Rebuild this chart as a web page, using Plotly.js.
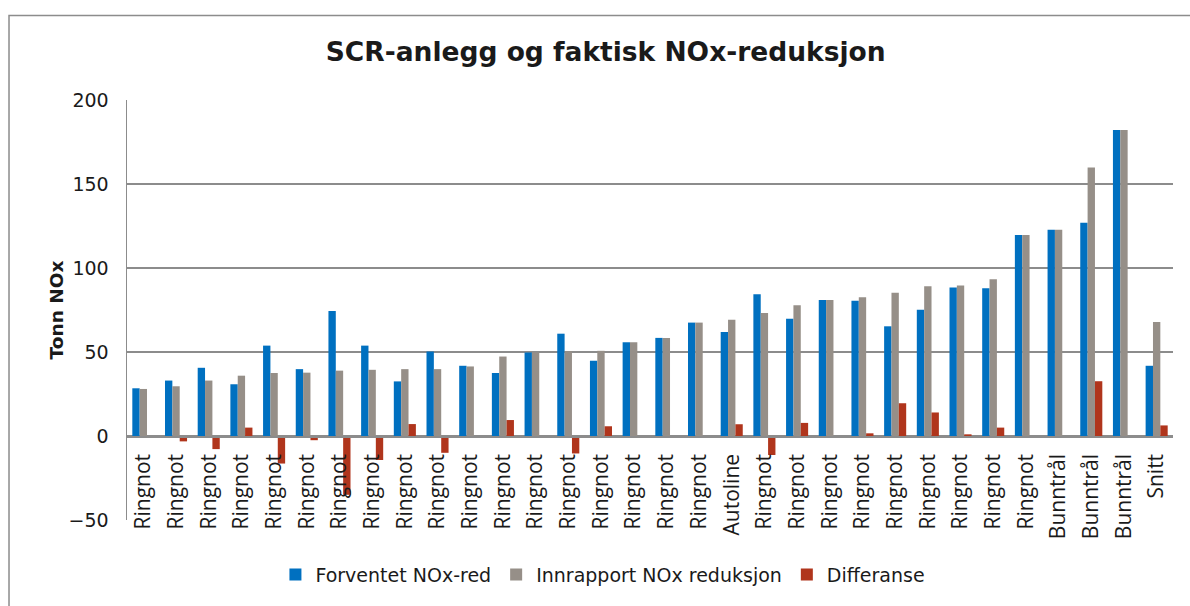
<!DOCTYPE html>
<html>
<head>
<meta charset="utf-8">
<script src="https://cdn.plot.ly/plotly-3.0.1.min.js"></script>
<style>html,body{margin:0;padding:0;background:#fff;}#chart{width:1190px;height:606px;}</style>
</head>
<body>
<div id="chart"></div>
<script>
const categories = ['Ringnot','Ringnot','Ringnot','Ringnot','Ringnot','Ringnot','Ringnot','Ringnot','Ringnot','Ringnot',
  'Ringnot','Ringnot','Ringnot','Ringnot','Ringnot','Ringnot','Ringnot','Ringnot','Autoline','Ringnot',
  'Ringnot','Ringnot','Ringnot','Ringnot','Ringnot','Ringnot','Ringnot','Ringnot','Bunntrål','Bunntrål',
  'Bunntrål','Snitt'];
const forventet = [28.4, 33, 40.6, 30.8, 53.8, 39.8, 74.4, 53.8, 32.5, 50.3,
  41.8, 37.5, 49.7, 60.9, 44.8, 55.8, 58.4, 67.5, 61.9, 84.4,
  69.8, 80.9, 80.5, 65.3, 75.1, 88.4, 88, 119.7, 122.7, 127,
  182.2, 41.8];
const innrapport = [28, 29.6, 33, 35.9, 37.5, 37.7, 38.9, 39.4, 39.8, 39.8,
  41.4, 47.3, 49.7, 50.5, 50.7, 55.8, 58.4, 67.5, 69.2, 73.2,
  77.9, 80.9, 82.6, 85.2, 89.2, 89.6, 93.3, 119.7, 122.7, 159.8,
  182.2, 67.9];
const differanse = [0, -3.2, -7.8, 5, -16.4, -2.5, -35, -14.3, 7.1, -10,
  0, 9.5, 0, -10.4, 5.8, 0, 0, 0, 7, -11.3,
  7.8, 0, 1.6, 19.5, 14, 1, 5, 0, 0, 32.6,
  0, 6.3];
const seriesNames = ['Forventet NOx-red', 'Innrapport NOx reduksjon', 'Differanse'];
const yTicks = [-50, 0, 50, 100, 150, 200];

const xIdx = categories.map((_, i) => i);
const colors = ['#0070c0', '#968f88', '#b0351c'];
const traces = [forventet, innrapport, differanse].map((vals, k) => ({
  type: 'bar', x: xIdx, y: vals, name: seriesNames[k],
  marker: {color: colors[k]}, hoverinfo: 'skip'
}));

const gridC = '#8c8c8c';
const layout = {
  width: 1190, height: 606,
  margin: {l: 127, r: 17, t: 100, b: 84},
  paper_bgcolor: '#ffffff', plot_bgcolor: '#ffffff',
  barmode: 'group', bargap: 0.325, bargroupgap: 0,
  title: {
    text: 'SCR-anlegg og faktisk NOx-reduksjon',
    font: {family: 'DejaVu Sans', size: 26.5, weight: 'bold', color: '#1a1a1a'},
    xref: 'container', x: 0.509, xanchor: 'center',
    yref: 'container', y: 0.914, yanchor: 'middle'
  },
  xaxis: {
    range: [-0.5, categories.length - 0.5],
    tickvals: xIdx, ticktext: categories,
    tickangle: -90,
    tickfont: {family: 'Open Sans', size: 21, color: '#1a1a1a'},
    ticks: '', showgrid: false, zeroline: false,
    showline: true, linecolor: gridC, linewidth: 1.5,
    anchor: 'free', position: 0.2,
    ticklabelstandoff: 8
  },
  yaxis: {
    range: [-50, 200], tickvals: yTicks,
    tickfont: {family: 'DejaVu Sans', size: 19, color: '#1a1a1a'},
    showgrid: true, gridcolor: gridC, gridwidth: 1.4,
    showline: true, linecolor: gridC, linewidth: 1.5,
    zeroline: false, ticks: '',
    ticklabelstandoff: 13,
    title: {text: 'Tonn NOx', font: {family: 'DejaVu Sans', size: 18.5, weight: 'bold', color: '#1a1a1a'}, standoff: 0}
  },
  legend: {
    orientation: 'h', x: 0.455, xanchor: 'center', y: -0.13, yanchor: 'middle',
    font: {family: 'DejaVu Sans', size: 19, color: '#1a1a1a'},
    itemclick: false
  },
  showlegend: true,
  shapes: [{
    type: 'rect', xref: 'paper', yref: 'paper',
    x0: -0.1128, x1: 1.05, y0: -0.3, y1: 1.2014,
    line: {color: gridC, width: 1.5}, fillcolor: 'rgba(0,0,0,0)', layer: 'below'
  }]
};
Plotly.newPlot('chart', traces, layout, {displayModeBar: false, staticPlot: true});
</script>
</body>
</html>
